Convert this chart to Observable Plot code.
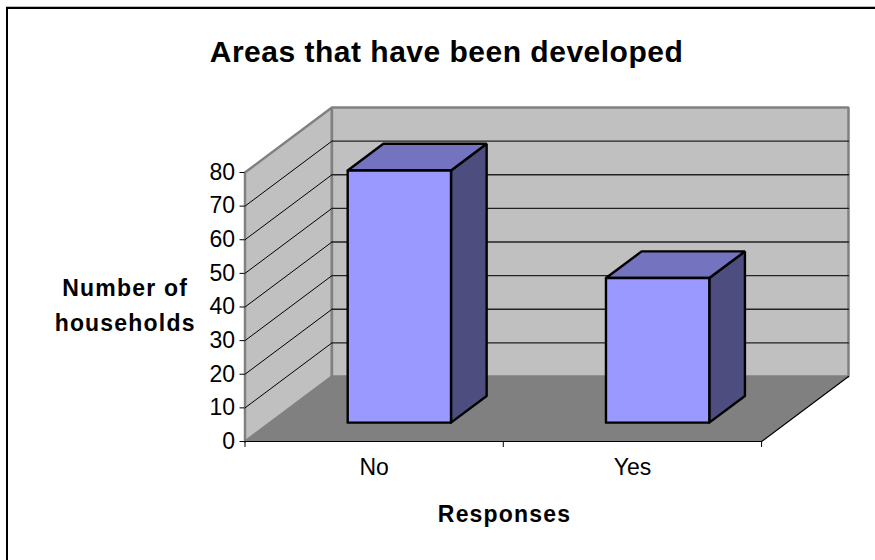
<!DOCTYPE html>
<html>
<head>
<meta charset="utf-8">
<script src="https://cdn.jsdelivr.net/npm/d3@7"></script>
<script src="https://cdn.jsdelivr.net/npm/@observablehq/plot@0.6"></script>
<style>
  html, body { margin: 0; padding: 0; background: #fff; }
  body { width: 875px; height: 560px; overflow: hidden; position: relative; font-family: "Liberation Sans", Arial, sans-serif; }
  #frame { position: absolute; left: 6px; top: 6px; right: -5px; bottom: -5px; border-top: 1px solid #bbb; border-left: 0; box-sizing: border-box; }
  #frame::before { content: ""; position: absolute; left: 0; top: 0; right: 0; bottom: 0; border-left: 2.5px solid #000; border-top: 2.5px solid #000; }
  #title { position: relative; height: 80px; box-sizing: border-box; padding-top: 36px; text-align: center; padding-left: 18px;
           font-size: 30px; line-height: 32px; font-weight: bold; color: #000; letter-spacing: 0.5px; }
  svg { display: block; position: relative; }
  g[font-weight="bold"] text, text[font-weight="bold"] { letter-spacing: 1.2px; }
</style>
</head>
<body>
<div id="frame"></div>
<div id="title">Areas that have been developed</div>
<script>
const categories = ["No", "Yes"];
const households = [75, 43];
const yTicks = [0, 10, 20, 30, 40, 50, 60, 70, 80];
const xLabel = "Responses";
const yLabel = "Number of\nhouseholds";

// Oblique projection, in data units: one full step into the depth of the chart
const depthX = 0.3366;   // categories
const depthY = 19.33;    // households
const yMax = 80;
const barInset = 0.3;    // bar occupies 0.3–0.7 of its category
const barNear = 0.29, barFar = 0.70;

const pt = (c, v, d) => ({x: c + d * depthX, y: v + d * depthY});
const poly = (pts, options) => Plot.line([...pts, pts[0]], {x: "x", y: "y", curve: "linear", strokeLinejoin: "miter", ...options});

const wallStyle = {fill: "#c0c0c0", stroke: "#808080", strokeWidth: 2.5};
const n = categories.length;

const marks = [
  // left wall, back wall, floor
  poly([pt(0, 0, 0), pt(0, yMax, 0), pt(0, yMax, 1), pt(0, 0, 1)], wallStyle),
  poly([pt(0, 0, 1), pt(0, yMax, 1), pt(n, yMax, 1), pt(n, 0, 1)], wallStyle),
  poly([pt(0, 0, 0), pt(0, 0, 1), pt(n, 0, 1), pt(n, 0, 0)], {fill: "#808080", stroke: "none"}),
  // gridlines
  ...yTicks.filter(v => v > 0 && v < yMax).flatMap(v => [
    Plot.line([pt(0, v, 0), pt(0, v, 1)], {x: "x", y: "y", stroke: "#000", strokeWidth: 1}),
    Plot.line([pt(0, v, 1), pt(n, v, 1)], {x: "x", y: "y", stroke: "#222", strokeWidth: 1.3})
  ]),
  // floor's open edges
  Plot.line([pt(0, 0, 0), pt(n, 0, 0), pt(n, 0, 1)], {x: "x", y: "y", stroke: "#000", strokeWidth: 1.2}),
  // bars
  ...households.flatMap((v, i) => {
    const a = i + barInset, b = i + 1 - barInset;
    const s = {stroke: "#000", strokeWidth: 2.4};
    return [
      poly([pt(b, 0, barNear), pt(b, v, barNear), pt(b, v, barFar), pt(b, 0, barFar)], {fill: "#4d4d80", ...s}),
      poly([pt(a, v, barNear), pt(a, v, barFar), pt(b, v, barFar), pt(b, v, barNear)], {fill: "#7373bf", ...s}),
      poly([pt(a, 0, barNear), pt(a, v, barNear), pt(b, v, barNear), pt(b, 0, barNear)], {fill: "#9999ff", ...s})
    ];
  }),
  // axes
  Plot.axisY({anchor: "left", ticks: yTicks, tickSize: 5, tickPadding: 5, label: null, fontSize: 23, tickFormat: d => String(d)}),
  Plot.axisX({anchor: "bottom", ticks: d3.range(n + 1), tickSize: 6, tickFormat: () => "", label: null}),
  Plot.axisX({anchor: "bottom", ticks: categories.map((_, i) => i + 0.5), tickSize: 0, tickPadding: 17,
              tickFormat: d => categories[Math.floor(d)], label: null, fontSize: 23}),
  // axis titles
  Plot.text([yLabel], {x: () => -0.464, y: () => 41.4, text: d => d, fontSize: 23, fontWeight: "bold", lineHeight: 1.5, textAnchor: "middle"}),
  Plot.text([xLabel], {x: () => 1.005, y: () => -21.7, text: d => d, fontSize: 23, fontWeight: "bold", textAnchor: "middle"})
];

const chart = Plot.plot({
  width: 875,
  height: 480,
  marginLeft: 244.5,
  marginRight: 27,
  marginTop: 27,
  marginBottom: 119,
  style: {background: "transparent", fontFamily: "'Liberation Sans', Arial, sans-serif", color: "#000", overflow: "visible"},
  x: {type: "linear", domain: [0, n + depthX], axis: null},
  y: {type: "linear", domain: [0, yMax + depthY], axis: null},
  marks
});
document.body.appendChild(chart);
</script>
</body>
</html>
